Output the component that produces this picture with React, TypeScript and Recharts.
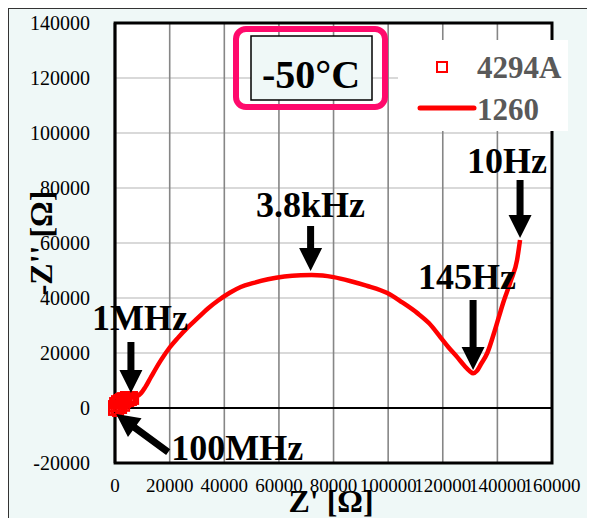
import React from 'react';
import {
  ComposedChart,
  XAxis,
  YAxis,
  CartesianGrid,
  Line,
  Scatter,
  ReferenceLine,
  ReferenceArea,
  ReferenceDot,
  Legend,
} from 'recharts';

// axis ticks
const xTicks = [0, 20000, 40000, 60000, 80000, 100000, 120000, 140000, 160000];
const yTicks = [-20000, 0, 20000, 40000, 60000, 80000, 100000, 120000, 140000];

// 1260 impedance analyser (Z', -Z'')
const re1260 = [
  4000, 6000, 8000, 9500, 11000, 13000, 16800, 20000, 23000, 26700, 30000, 34000, 37600, 42000,
  46000, 50800, 56000, 62000, 68000, 72000, 76000, 80000, 86000, 92000, 99700, 105000, 110700,
  115000, 119100, 122000, 125300, 128000, 130000, 131100, 132500, 134000, 136300, 139000,
  142100, 145000, 147200, 148300,
];
const im1260 = [
  2500, 3800, 4300, 5400, 7500, 11000, 17400, 22000, 25500, 29400, 32500, 36200, 39000, 41900,
  44000, 45500, 46800, 47800, 48300, 48400, 48200, 47600, 46200, 44500, 41800, 38500, 34500,
  30800, 25800, 22200, 18500, 15300, 13300, 12600, 13500, 16000, 20000, 28000, 38200, 46500,
  53800, 61100,
];

// 4294A points (high frequency end)
const re4294 = [-400, -400, 0, 700, 1500, 2200, 2900, 4000, 5100, 6200, 6600, 400, 1500, 2600, 3700, 4800, 5800, 1100, 2200, 3300];
const im4294 = [-700, 700, 1800, 2500, 2900, 3300, 3600, 4000, 4000, 4000, 3300, -400, 700, 1500, 2200, 2500, 2900, -1100, 0, 800];

// frequency annotations: label + where the arrow points
const annotLabels = ['3.8kHz', '10Hz', '145Hz', '1MHz', '100MHz'];
const annotRe = [71600, 148300, 131100, 5800, 400];
const annotIm = [49800, 61800, 13800, 5450, -2200];

// arrow tail / text offsets in px from the arrow tip
const annotStyle = [
  { tail: [0, -45], text: [0, -54], anchor: 'middle' },
  { tail: [0, -58], text: [-13, -65], anchor: 'middle' },
  { tail: [0, -70], text: [-6, -81], anchor: 'middle' },
  { tail: [0, -51], text: [9, -63], anchor: 'middle' },
  { tail: [52, 38], text: [55, 46], anchor: 'start' },
];

const line1260 = re1260.map((re, i) => ({ re, im: im1260[i] }));
const pts4294 = re4294.map((re, i) => ({ re, im: im4294[i] }));

const RED = '#ff0000';
const BG = '#eff8f7';

const Square = (props: any) => {
  const { cx, cy } = props;
  return <rect x={cx - 5} y={cy - 5} width={10} height={10} fill="none" stroke={RED} strokeWidth={2} />;
};

const makeArrow = (i: number) => (props: any) => {
  const { cx, cy } = props;
  const st = annotStyle[i];
  const ax = cx + st.tail[0];
  const ay = cy + st.tail[1];
  const len = Math.hypot(cx - ax, cy - ay);
  const ux = (cx - ax) / len;
  const uy = (cy - ay) / len;
  const nx = -uy;
  const ny = ux;
  const head = 23;
  const hw = 11.5;
  const sw = 3.5;
  const bx = cx - ux * head;
  const by = cy - uy * head;
  const pts = [
    [ax + nx * sw, ay + ny * sw],
    [bx + nx * sw, by + ny * sw],
    [bx + nx * hw, by + ny * hw],
    [cx, cy],
    [bx - nx * hw, by - ny * hw],
    [bx - nx * sw, by - ny * sw],
    [ax - nx * sw, ay - ny * sw],
  ]
    .map((p) => p.join(','))
    .join(' ');
  return (
    <g>
      <polygon points={pts} fill="#000" />
      <text
        x={cx + st.text[0]}
        y={cy + st.text[1]}
        textAnchor={st.anchor as any}
        fontSize={36}
        fontWeight="bold"
        fontFamily="Liberation Serif"
        fill="#000"
      >
        {annotLabels[i]}
      </text>
    </g>
  );
};

const renderLegend = () => (
  <div style={{ width: 170, height: 91, background: '#fff', position: 'relative' }}>
    <svg width={170} height={91} style={{ position: 'absolute', left: 0, top: 0 }}>
      <rect x={39} y={22} width={10} height={10} fill="none" stroke={RED} strokeWidth={2} />
      <line x1={22} y1={68} x2={76} y2={68} stroke={RED} strokeWidth={5} strokeLinecap="round" />
      <text x={79} y={38} fontSize={31} fontWeight="bold" fill="#595959" fontFamily="Liberation Serif">
        4294A
      </text>
      <text x={79} y={80} fontSize={31} fontWeight="bold" fill="#595959" fontFamily="Liberation Serif">
        1260
      </text>
    </svg>
  </div>
);

function App(): JSX.Element {
  return (
    <div
      style={{
        position: 'relative',
        width: 586,
        height: 509,
        marginLeft: -1,
        marginTop: -1,
        background: BG,
        borderTop: '2px solid #333',
        borderLeft: '2px solid #333',
        fontFamily: 'Liberation Serif',
      }}
    >
      <ComposedChart width={586} height={509} margin={{ top: 14, right: 43, left: 0, bottom: 15 }}>
        <CartesianGrid vertical={false} stroke="#d9d9d9" strokeWidth={2} fill="#fff" />
        <CartesianGrid horizontal={false} stroke="#868686" strokeWidth={1.6} />
        <XAxis
          type="number"
          dataKey="re"
          domain={[0, 160000]}
          ticks={xTicks}
          interval={0}
          height={40}
          axisLine={false}
          tickLine={false}
          tickSize={0}
          tickMargin={16}
          tick={{ fontSize: 19, fill: '#000', fontFamily: 'Liberation Serif' }}
          label={{
            content: () => (
              <text x={322} y={503} textAnchor="middle" fontSize={32} fontWeight="bold" fontFamily="Liberation Serif" fill="#000">
                Z' [Ω]
              </text>
            ),
          }}
        />
        <YAxis
          type="number"
          dataKey="im"
          domain={[-20000, 140000]}
          ticks={yTicks}
          interval={0}
          width={105}
          axisLine={false}
          tickLine={false}
          tickSize={0}
          tickMargin={24}
          tick={{ fontSize: 20, fill: '#000', fontFamily: 'Liberation Serif' }}
          label={{
            content: () => (
              <text
                x={43}
                y={234}
                transform="rotate(-90 43 234)"
                textAnchor="middle"
                fontSize={32}
                fontWeight="bold"
                fontFamily="Liberation Serif"
                fill="#000"
              >
                -Z'' [Ω]
              </text>
            ),
          }}
        />
        <ReferenceLine y={0} stroke="#000" strokeWidth={2} />
        <ReferenceArea x1={0} x2={160000} y1={-20000} y2={140000} fill="none" stroke="#000" strokeWidth={3} ifOverflow="visible" />
        <Line
          data={line1260}
          dataKey="im"
          type="monotone"
          stroke={RED}
          strokeWidth={4.5}
          dot={false}
          isAnimationActive={false}
        />
        <Scatter data={pts4294} dataKey="im" shape={Square} isAnimationActive={false} />
        {annotLabels.map((l, i) => (
          <ReferenceDot key={l} x={annotRe[i]} y={annotIm[i]} r={0} shape={makeArrow(i)} ifOverflow="visible" />
        ))}
        <Legend
          layout="vertical"
          verticalAlign="middle"
          align="center"
          content={renderLegend}
          wrapperStyle={{ top: 31, left: 389, width: 170, height: 91 }}
        />
      </ComposedChart>
      <svg width={586} height={509} style={{ position: 'absolute', left: 0, top: 0, pointerEvents: 'none' }}>
        <rect x={227} y={20} width={149} height={78} rx={10} fill="none" stroke="#ff0a6c" strokeWidth={6} />
        <rect x={242} y={27} width={121} height={64} fill={BG} stroke="#000" strokeWidth={1.5} />
        <text x={302} y={79} textAnchor="middle" fontSize={40} fontWeight="bold" fontFamily="Liberation Serif" fill="#000">
          -50°C
        </text>
      </svg>
    </div>
  );
}

export default App;
